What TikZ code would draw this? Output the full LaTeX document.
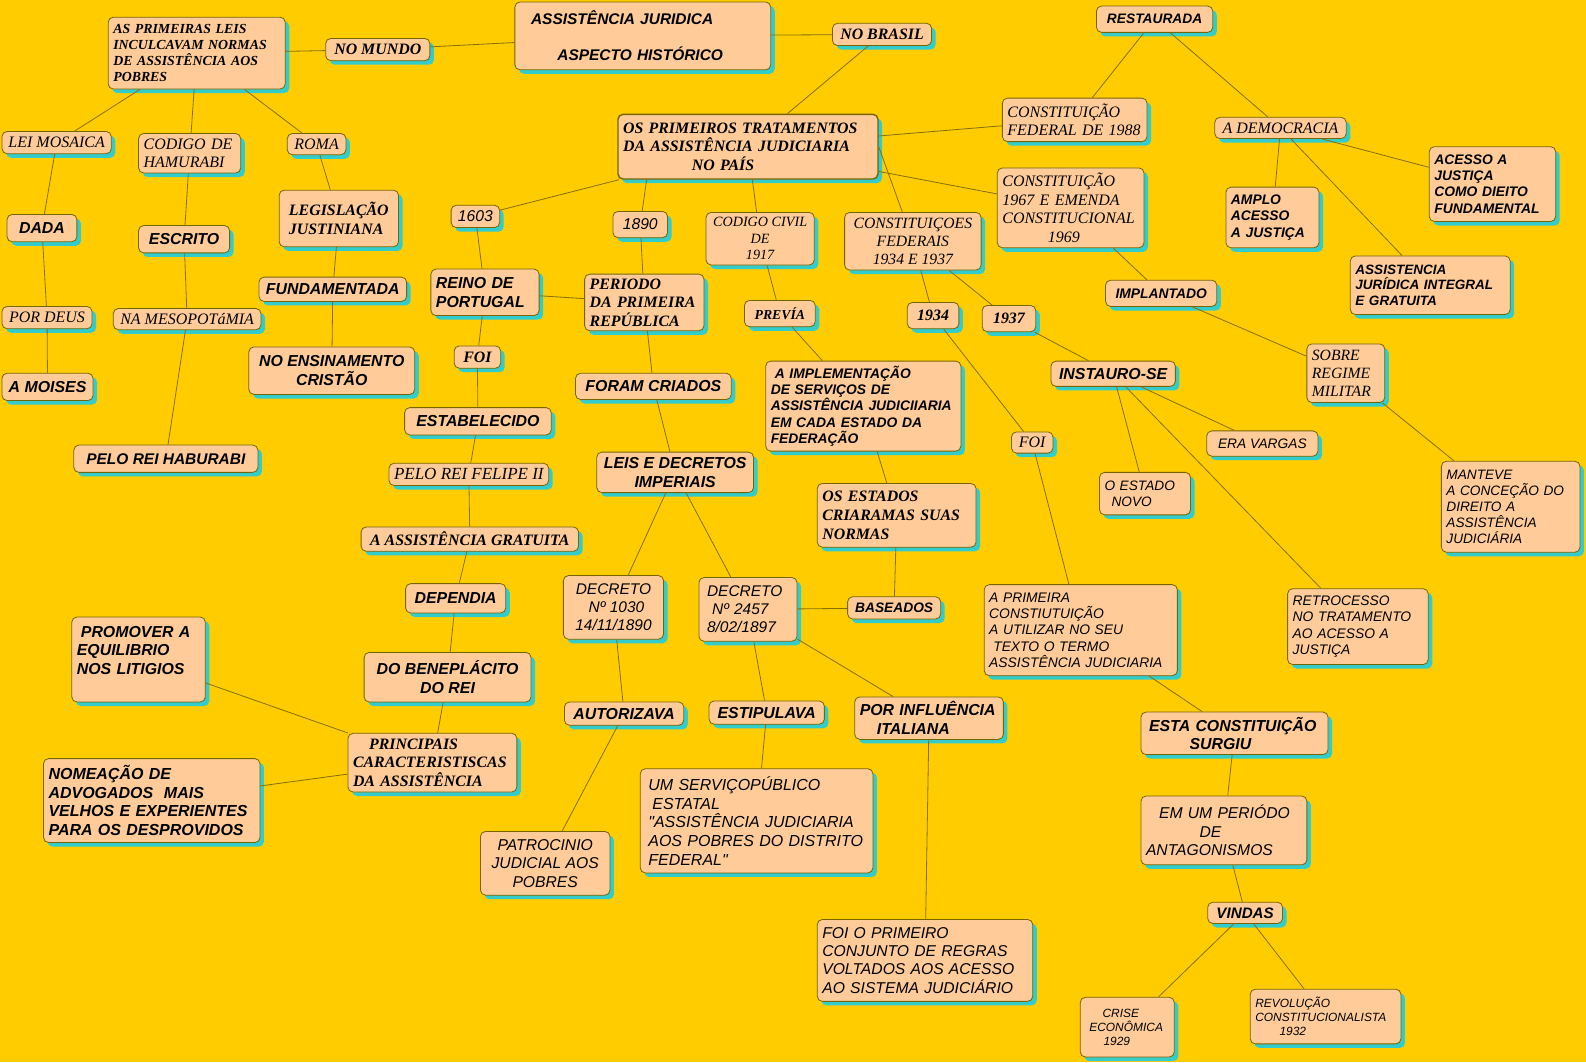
\documentclass[tikz,border=0pt]{standalone}
\usepackage{fontspec}
\setmainfont{Liberation Serif}
\setsansfont{Liberation Sans}[Ligatures=TeXOff]
\usepackage{tikz}
\usetikzlibrary{shadows}
\definecolor{fundo}{RGB}{255,204,0}
\definecolor{pessego}{RGB}{255,204,153}
\definecolor{sombra}{RGB}{51,204,204}
\definecolor{borda}{RGB}{120,100,0}
\definecolor{linha}{RGB}{135,112,0}
\newcommand{\fsz}[1]{\fontsize{#1}{\fpeval{1.17*#1}}\selectfont}

\begin{document}
\begin{tikzpicture}[x=1pt, y=-1pt,
    box/.style={draw=borda, fill=pessego, rounded corners=5pt, line width=0.8pt,
        inner xsep=5pt, inner ysep=1pt, align=left,
        drop shadow={shadow xshift=4pt, shadow yshift=-4pt, fill=sombra, opacity=1}},
    sb/.style={font=\sffamily\bfseries\itshape\fsz{#1}}, sb/.default=15.7,
    si/.style={font=\sffamily\itshape\fsz{#1}}, si/.default=15.5,
    rb/.style={font=\rmfamily\bfseries\itshape\fsz{#1}}, rb/.default=15.7,
    ri/.style={font=\rmfamily\itshape\fsz{#1}}, ri/.default=15.8,
    link/.style={draw=linha, line width=0.8pt},
]
\useasboundingbox (0,0) rectangle (1568,1050);
\fill[fundo] (0,0) rectangle (1568,1050);

% topo
\node[box, sb=15.3, inner xsep=16pt, text width=221, minimum height=67] (titulo) at (635.5,35.5) {ASSISTÊNCIA JURIDICA\\[18pt]\hspace*{26pt}ASPECTO HISTÓRICO};
\node[box, rb=13.7, text width=165, minimum height=71] (leis) at (194.5,52.5) {AS PRIMEIRAS LEIS\\INCULCAVAM NORMAS\\DE ASSISTÊNCIA AOS\\POBRES};
\node[box, rb, minimum width=103, minimum height=22] (mundo) at (373.5,49) {NO MUNDO};
\node[box, rb, minimum width=98, minimum height=22] (brasil) at (872,34) {NO BRASIL};
\node[box, rb, line width=1.4pt, text width=247, minimum height=64] (primeiros) at (739.5,145) {OS PRIMEIROS TRATAMENTOS\\DA ASSISTÊNCIA JUDICIARIA\\\hspace*{68pt}NO PAÍS};

% direita
\node[box, sb=13.6, minimum width=115, minimum height=26] (restaurada) at (1141.5,19) {RESTAURADA};
\node[box, ri, text width=133, minimum height=43] (c1988) at (1062.5,118.5) {CONSTITUIÇÃO\\FEDERAL DE 1988};
\node[box, ri, text width=135, minimum height=79] (c1967) at (1058.5,205.5) {CONSTITUIÇÃO\\1967 E EMENDA\\CONSTITUCIONAL\\\hspace*{45pt}1969};
\node[box, ri, minimum width=130, minimum height=21] (democracia) at (1266,126.5) {A DEMOCRACIA};
\node[box, sb=13.7, text width=115, minimum height=74] (acesso) at (1475.5,182) {ACESSO A\\JUSTIÇA\\COMO DIEITO\\FUNDAMENTAL};
\node[box, sb=13.7, text width=82, minimum height=60] (amplo) at (1258,215) {AMPLO\\ACESSO\\A JUSTIÇA};
\node[box, sb=13.4, text width=148, minimum height=58] (integral) at (1414,282) {ASSISTENCIA\\JURÍDICA INTEGRAL\\E GRATUITA};
\node[box, sb=13.7, minimum width=110, minimum height=26] (implantado) at (1148,290) {IMPLANTADO};
\node[box, ri=15.5, text width=67, minimum height=58] (sobre) at (1330.5,369) {SOBRE\\REGIME\\MILITAR};
\node[box, si=13.5, text width=127, minimum height=90] (manteve) at (1493.5,501) {MANTEVE\\A CONCEÇÃO DO\\DIREITO A\\ASSISTÊNCIA\\JUDICIÁRIA};

% esquerda
\node[box, ri, minimum width=108, minimum height=22] (mosaica) at (56,141) {LEI MOSAICA};
\node[box, ri, text width=91, minimum height=39] (codigo) at (187.5,151.5) {CODIGO DE\\HAMURABI};
\node[box, ri, minimum width=58, minimum height=21] (roma) at (313,142.5) {ROMA};
\node[box, sb, minimum width=69, minimum height=27] (dada) at (41.5,225.5) {DADA};
\node[box, sb, minimum width=90, minimum height=27] (escrito) at (182,236.5) {ESCRITO};
\node[box, rb, minimum width=118, minimum height=56] (legislacao) at (335,216) {LEGISLAÇÃO\\JUSTINIANA};
\node[box, sb, minimum width=146, minimum height=24] (fundamentada) at (329,286) {FUNDAMENTADA};
\node[box, ri, minimum width=89, minimum height=22] (pordeus) at (46.5,314) {POR DEUS};
\node[box, ri, minimum width=146, minimum height=21] (mesopotamia) at (185,315.5) {NA MESOPOTáMIA};
\node[box, sb, minimum width=90, minimum height=27] (moises) at (47,382.5) {A MOISES};
\node[box, sb, align=center, minimum width=164, minimum height=47] (ensinamento) at (328,366.5) {NO ENSINAMENTO\\CRISTÃO};
\node[box, sb=15.3, minimum width=182, minimum height=27] (haburabi) at (164,453.5) {PELO REI HABURABI};

% centro
\node[box, si, minimum width=48, minimum height=22] (a1603) at (470,214) {1603};
\node[box, sb, text width=97, minimum height=46] (reino) at (479.5,289) {REINO DE\\PORTUGAL};
\node[box, rb, minimum width=46, minimum height=22] (foiA) at (472,353) {FOI};
\node[box, sb, minimum width=145, minimum height=27] (estabelecido) at (472.5,416.5) {ESTABELECIDO};
\node[box, ri=16.8, minimum width=155, minimum height=22] (felipe) at (463.5,469) {PELO REI FELIPE II};
\node[box, rb, minimum width=215, minimum height=24] (gratuita) at (464.5,533) {A ASSISTÊNCIA GRATUITA};
\node[box, sb, minimum width=99, minimum height=29] (dependia) at (450.5,591.5) {DEPENDIA};
\node[box, sb, align=center, minimum width=165, minimum height=49] (beneplacito) at (442.5,669.5) {DO BENEPLÁCITO\\DO REI};
\node[box, rb, text width=157, minimum height=58] (principais) at (427.5,754) {\hspace*{16pt}PRINCIPAIS\\CARACTERISTISCAS\\DA ASSISTÊNCIA};
\node[box, sb, text width=122, minimum height=84] (promover) at (137,652) {\hspace*{4pt}PROMOVER A\\EQUILIBRIO\\NOS LITIGIOS\\\mbox{}};
\node[box, sb=15.8, text width=204, minimum height=83] (nomeacao) at (150,791.5) {NOMEAÇÃO DE\\ADVOGADOS\ \ MAIS\\VELHOS E EXPERIENTES\\PARA OS DESPROVIDOS};

\node[box, si, minimum width=54, minimum height=26] (a1890) at (633,222) {1890};
\node[box, rb, text width=108, minimum height=56] (periodo) at (637,299) {PERIODO\\DA PRIMEIRA\\REPÚBLICA};
\node[box, sb, minimum width=154, minimum height=26] (criados) at (646,382) {FORAM CRIADOS};
\node[box, sb, align=center, minimum width=155, minimum height=40] (leisdec) at (667.5,467) {LEIS E DECRETOS\\IMPERIAIS};
\node[box, si=15.3, align=center, minimum width=99, minimum height=63] (dec1030) at (606.5,600.5) {DECRETO\\\hspace*{6pt}Nº 1030\\14/11/1890};
\node[box, si=15.3, inner xsep=8pt, text width=81, minimum height=63] (dec2457) at (739.5,602.5) {DECRETO\\\hspace*{5pt}Nº 2457\\8/02/1897};
\node[box, sb=13.6, minimum width=92, minimum height=22] (baseados) at (884,601) {BASEADOS};
\node[box, sb, minimum width=118, minimum height=23] (autorizava) at (617,705.5) {AUTORIZAVA};
\node[box, sb, minimum width=114, minimum height=23] (estipulava) at (758,704.5) {ESTIPULAVA};
\node[box, sb, text width=137, minimum height=42] (influencia) at (918.5,710) {POR INFLUÊNCIA\\\hspace*{17pt}ITALIANA};
\node[box, si, align=center, minimum width=128, minimum height=63] (patrocinio) at (539,853.5) {PATROCINIO\\JUDICIAL AOS\\POBRES};
\node[box, si=15.8, inner xsep=8pt, text width=214, minimum height=103] (servico) at (748,811.5) {UM SERVIÇOPÚBLICO\\\hspace*{4pt}ESTATAL\\"ASSISTÊNCIA JUDICIARIA\\AOS POBRES DO DISTRITO\\FEDERAL"};
\node[box, si, text width=203, minimum height=81] (regras) at (914.5,949.5) {FOI O PRIMEIRO\\CONJUNTO DE REGRAS\\VOLTADOS AOS ACESSO\\AO SISTEMA JUDICIÁRIO};

\node[box, ri=14, align=center, minimum width=107, minimum height=52] (codcivil) at (751.5,236) {CODIGO CIVIL\\DE\\1917};
\node[box, rb=13.6, minimum width=70, minimum height=26] (previa) at (771,310) {PREVÍA};
\node[box, sb=13.7, text width=183, minimum height=89] (implementacao) at (853.5,401.5) {\hspace*{4pt}A IMPLEMENTAÇÃO\\DE SERVIÇOS DE\\ASSISTÊNCIA JUDICIIARIA\\EM CADA ESTADO DA\\FEDERAÇÃO};
\node[box, rb, text width=147, minimum height=63] (estados) at (886.5,509.5) {OS ESTADOS\\CRIARAMAS SUAS\\NORMAS};

% constituicoes 1934 e 1937
\node[box, ri=15.5, align=center, minimum width=135, minimum height=57] (constfed) at (902.5,238.5) {CONSTITUIÇOES\\FEDERAIS\\1934 E 1937};
\node[box, rb, minimum width=51, minimum height=26] (a1934) at (922.5,312) {1934};
\node[box, rb, minimum width=53, minimum height=26] (a1937) at (997.5,315) {1937};
\node[box, sb, minimum width=123, minimum height=25] (instauro) at (1100.5,369.5) {INSTAURO-SE};
\node[box, ri, minimum width=41, minimum height=21] (foiB) at (1020.5,437.5) {FOI};
\node[box, si=13.6, minimum width=110, minimum height=25] (vargas) at (1248,438.5) {ERA VARGAS};
\node[box, si=13.5, text width=80, minimum height=42] (estadonovo) at (1132,488) {O ESTADO\\\hspace*{7pt}NOVO};
\node[box, si=13.7, text width=181, minimum height=90] (primeira) at (1068.5,623) {A PRIMEIRA\\CONSTIUTUIÇÃO\\A UTILIZAR NO SEU\\\hspace*{4pt}TEXTO O TERMO\\ASSISTÊNCIA JUDICIARIA};
\node[box, si=13.7, text width=129, minimum height=75] (retrocesso) at (1342.5,619.5) {RETROCESSO\\NO TRATAMENTO\\AO ACESSO A\\JUSTIÇA};
\node[box, sb, inner xsep=8pt, text width=169, minimum height=42] (estaconst) at (1220.5,725) {ESTA CONSTITUIÇÃO\\\hspace*{40pt}SURGIU};
\node[box, si, text width=154, minimum height=68] (antagonismos) at (1210,821) {\hspace*{13pt}EM UM PERIÓDO\\\hspace*{53pt}DE\\ANTAGONISMOS};
\node[box, sb=15, minimum width=74, minimum height=21] (vindas) at (1231,902.5) {VINDAS};
\node[box, si=11.8, text width=83, minimum height=59] (crise) at (1114.5,1015.5) {\hspace*{17pt}CRISE\\\hspace*{4pt}ECONÔMICA\\\hspace*{18pt}1929};
\node[box, si=11.8, text width=139, minimum height=54] (revolucao) at (1310.5,1005) {REVOLUÇÃO\\CONSTITUCIONALISTA\\\hspace*{24pt}1932};

% ligacoes
\draw[link] (leis) -- (mundo);
\draw[link] (mundo) -- (titulo);
\draw[link] (titulo) -- (brasil);
\draw[link] (brasil) -- (primeiros);
\draw[link] (leis) -- (mosaica);
\draw[link] (leis) -- (codigo);
\draw[link] (leis) -- (roma);
\draw[link] (mosaica) -- (dada);
\draw[link] (dada) -- (pordeus);
\draw[link] (pordeus) -- (moises);
\draw[link] (codigo) -- (escrito);
\draw[link] (escrito) -- (mesopotamia);
\draw[link] (mesopotamia) -- (haburabi);
\draw[link] (roma) -- (legislacao);
\draw[link] (legislacao) -- (fundamentada);
\draw[link] (fundamentada) -- (ensinamento);
\draw[link] (primeiros) -- (a1603);
\draw[link] (a1603) -- (reino);
\draw[link] (reino) -- (foiA);
\draw[link] (foiA) -- (estabelecido);
\draw[link] (estabelecido) -- (felipe);
\draw[link] (felipe) -- (gratuita);
\draw[link] (gratuita) -- (dependia);
\draw[link] (dependia) -- (beneplacito);
\draw[link] (beneplacito) -- (principais);
\draw[link] (principais) -- (promover);
\draw[link] (principais) -- (nomeacao);
\draw[link] (reino) -- (periodo);
\draw[link] ([xshift=29pt]primeiros.south west) -- (a1890);
\draw[link] (a1890) -- (periodo);
\draw[link] (periodo) -- (criados);
\draw[link] (criados) -- (leisdec);
\draw[link] (leisdec) -- (dec1030);
\draw[link] (leisdec) -- (dec2457);
\draw[link] (dec1030) -- (autorizava);
\draw[link] (autorizava) -- (patrocinio);
\draw[link] (dec2457) -- (estipulava);
\draw[link] (estipulava) -- (servico);
\draw[link] (dec2457) -- (influencia);
\draw[link] (influencia) -- (regras);
\draw[link] (dec2457) -- (baseados);
\draw[link] (baseados) -- (estados);
\draw[link] (estados) -- (implementacao);
\draw[link] (implementacao) -- (previa);
\draw[link] (previa) -- (codcivil);
\draw[link] (primeiros) -- (codcivil);
\draw[link] (primeiros.east) -- (constfed);
\draw[link] (primeiros) -- (c1988);
\draw[link] (primeiros) -- (c1967);
\draw[link] (c1988) -- (restaurada);
\draw[link] (restaurada) -- (democracia);
\draw[link] (democracia) -- (amplo);
\draw[link] (democracia) -- (acesso);
\draw[link] (democracia) -- (integral);
\draw[link] (c1967) -- (implantado);
\draw[link] (implantado) -- (sobre);
\draw[link] (sobre) -- (manteve);
\draw[link] (constfed) -- (a1934);
\draw[link] (constfed) -- (a1937);
\draw[link] (a1934) -- (foiB);
\draw[link] (foiB) -- (primeira);
\draw[link] (a1937) -- (instauro);
\draw[link] (instauro) -- (estadonovo);
\draw[link] (instauro) -- (vargas);
\draw[link] (instauro) -- (retrocesso);
\draw[link] (primeira) -- (estaconst);
\draw[link] (estaconst) -- (antagonismos);
\draw[link] (antagonismos) -- (vindas);
\draw[link] (vindas) -- (crise);
\draw[link] (vindas) -- (revolucao);
\end{tikzpicture}
\end{document}
